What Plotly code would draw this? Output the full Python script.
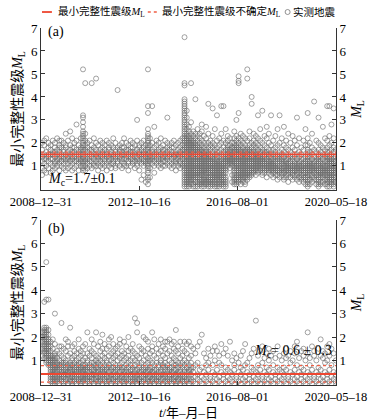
import plotly.graph_objects as go

# ---------------- data (magnitudes in tenths of M_L, grouped by month) ----------------
A_EARLY = [
    "2009-01:9 14 17 20 12 6", "2009-02:11 15 8 19 13 21", "2009-03:16 10 13 22 7 14",
    "2009-04:12 18 14 9 15 20", "2009-05:13 7 17 11 19 15", "2009-06:15 10 21 13 8 16",
    "2009-07:12 18 9 14 20 11 16", "2009-08:17 13 10 22 15 12", "2009-09:14 19 11 8 16 13 21 18",
    "2009-10:10 15 18 12 21 14", "2009-11:13 9 16 20 14 11 17", "2009-12:18 12 15 8 19 24 13",
    "2010-01:11 16 14 21 9 13", "2010-02:15 12 19 10 17 25 14", "2010-03:14 8 13 18 22 11 16",
    "2010-04:16 12 20 9 14 18", "2010-05:13 17 10 15 21 12 28", "2010-06:19 11 14 8 16 13",
    "2010-07:12 15 18 10 13 22 17",
    "2010-08:8 9 10 11 12 13 14 15 16 17 18 19 20 21 22 23 24 25 27 29 31 32 52",
    "2010-09:10 13 15 17 19 21 24 46 12 8", "2010-10:11 14 18 9 16 20 13", "2010-11:13 10 17 15 21 12",
    "2010-12:12 16 9 19 14 46 17", "2011-01:15 11 18 13 22 10", "2011-02:10 14 17 20 12 48 15",
    "2011-03:13 16 11 19 14 8", "2011-04:17 12 15 10 21 14", "2011-05:14 18 9 13 16 20 11",
    "2011-06:12 15 19 10 17 13", "2011-07:16 11 14 21 8 15", "2011-08:13 17 12 18 10 14 20",
    "2011-09:15 9 16 13 19 11", "2011-10:11 14 18 12 22 15", "2011-11:17 13 10 16 20 14 9",
    "2011-12:12 15 43 18 11 14", "2012-01:14 10 17 13 19 16", "2012-02:16 12 20 9 15 13 18",
    "2012-03:11 15 13 18 22 10", "2012-04:13 17 14 10 16 20", "2012-05:15 12 19 11 14 17 8",
    "2012-06:10 14 16 21 13 18", "2012-07:18 13 11 15 20 12 16", "2012-08:12 16 14 9 19 15",
    "2012-09:14 11 17 30 13 21 10", "2012-10:16 13 19 12 15 8 18", "2012-11:11 15 13 20 17 14 4",
    "2012-12:13 18 10 16 12 21 15 6", "2013-01:15 12 17 14 19 11 3",
    "2013-02:2 4 5 7 8 9 10 11 12 13 14 15 16 17 18 19 20 21 22 23 24 26 33 36 52",
    "2013-03:12 16 9 19 14 22 5 13", "2013-04:14 11 17 36 13 20 16", "2013-05:10 15 27 12 18 14 7",
    "2013-06:16 13 19 11 15 21", "2013-07:12 17 14 10 20 13 16", "2013-08:15 11 18 13 22 9",
    "2013-09:13 16 12 19 14 17 10", "2013-10:17 10 15 21 12 14", "2013-11:11 31 14 18 16 13 20",
    "2013-12:14 12 17 10 19 15", "2014-01:16 13 20 11 15 18 9", "2014-02:12 15 18 14 10 21",
    "2014-03:15 11 13 19 16 12 8", "2014-04:13 17 10 15 20 14", "2014-05:18 12 16 9 14 21 11",
    "2014-06:11 15 19 13 17 10 22",
]
A_SWARM = [
    "2014-07:1 2 3 4 5 6 7 8 9 10 11 12 13 14 15 16 17 18 19 20 21 22 23 24 25 26 27 28 29 30 31 32 33 34 35 36 37 38 39 45 46 66",
    "2014-08:1 2 3 4 5 6 7 8 9 10 11 12 13 14 15 16 17 18 19 20 21 22 23 24 26 28 31 34",
    "2014-09:1 2 3 4 5 6 7 8 9 10 11 12 13 14 15 16 17 18 19 20 21 22 23 25 27",
    "2014-10:2 3 4 5 6 7 8 9 10 11 12 13 14 15 16 17 18 19 20 21 22 24 46 29",
    "2014-11:1 2 4 5 6 7 8 9 10 11 12 13 14 15 16 17 18 19 20 21 23 25",
    "2014-12:1 3 4 5 6 7 8 9 10 11 12 13 14 15 16 17 18 19 20 22 24 39",
    "2015-01:1 2 3 5 6 7 8 9 10 11 12 13 14 15 16 17 18 19 21 23 26",
    "2015-02:2 3 4 5 6 7 8 9 10 11 12 13 14 15 16 17 18 20 22 24",
    "2015-03:1 2 3 4 6 7 8 9 10 11 12 13 14 15 16 17 19 21 25 28",
    "2015-04:1 2 3 4 5 6 7 8 9 10 11 12 13 14 15 16 18 20 23",
    "2015-05:2 3 4 5 6 7 8 9 10 11 12 13 14 15 16 17 19 22 27",
    "2015-06:1 2 3 4 5 7 8 9 10 11 12 13 14 15 16 18 20 24 37",
    "2015-07:1 2 3 4 5 6 7 8 9 10 11 12 13 14 15 17 19 21",
    "2015-08:2 3 4 5 6 7 8 9 10 11 12 13 14 16 18 20 23 35",
    "2015-09:1 2 3 4 5 6 7 8 9 10 11 12 13 15 17 19 26",
    "2015-10:1 2 4 5 6 7 8 9 10 11 12 13 14 15 16 18 21 32",
    "2015-11:1 2 3 4 5 6 7 8 9 10 11 12 14 16 19 22",
    "2015-12:2 3 4 5 6 7 8 9 10 11 12 13 15 17 20 24 36",
    "2016-01:1 2 3 4 5 6 7 8 9 10 11 12 13 14 16 18 21 36",
    "2016-02:1 2 3 4 5 7 8 9 10 11 12 13 14 15 17 20 26",
    "2016-03:10 11 12 13 14 15 16 17 18 19 21 23",
    "2016-04:9 11 12 13 14 15 16 17 19 22",
    "2016-05:3 6 10 11 12 13 14 15 16 18 20",
]
A_LATE = [
    "2016-06:2 3 4 5 6 7 8 9 10 11 12 13 14 15 16 17 18 19 20 22 25",
    "2016-07:2 3 4 5 6 8 9 10 11 12 13 14 15 16 17 18 19 21 23 30",
    "2016-08:3 4 5 6 7 8 9 10 11 12 13 14 15 16 17 18 20 22 33 46 47 49",
    "2016-09:2 4 5 6 7 8 9 10 11 12 13 14 15 16 17 19 21 24",
    "2016-10:3 4 5 6 7 8 9 10 11 12 13 14 15 16 18 20 23",
    "2016-11:2 3 5 6 7 8 9 10 11 12 13 14 15 16 17 19 22",
    "2016-12:4 5 6 7 8 9 10 11 12 13 14 15 16 17 18 21 48 52",
    "2017-01:5 6 7 8 9 10 11 12 13 14 15 16 17 19 22 25",
    "2017-02:6 7 8 9 10 11 12 13 14 15 16 18 20 37 40",
    "2017-03:7 8 9 10 11 12 13 14 15 16 17 19 21 24", "2017-04:6 8 9 10 11 12 13 14 15 16 18 20 23",
    "2017-05:7 8 9 10 11 12 13 14 15 17 19 22 32", "2017-06:8 9 10 11 12 13 14 15 16 18 21 26",
    "2017-07:6 7 9 10 11 12 13 14 16 17 20 34", "2017-08:7 8 9 10 11 12 13 14 15 16 19 23",
    "2017-09:5 8 9 10 11 12 13 15 16 18 22 27", "2017-10:7 8 9 10 11 12 14 15 17 20 24",
    "2017-11:6 8 9 10 11 12 13 14 16 19 32", "2017-12:5 7 8 9 10 11 12 13 15 17 21",
    "2018-01:6 7 8 9 10 11 12 14 16 18 23", "2018-02:4 6 8 9 10 11 13 14 15 19 26",
    "2018-03:5 7 8 9 10 12 13 14 16 20 32", "2018-04:6 7 8 9 11 12 13 15 17 22",
    "2018-05:4 5 7 8 9 10 11 12 14 16 19 27", "2018-06:5 6 8 9 10 11 12 13 15 18 21",
    "2018-07:3 6 7 8 9 10 11 13 14 17 24", "2018-08:5 7 8 9 10 11 12 14 16 20",
    "2018-09:4 6 7 8 9 10 12 13 15 18 23", "2018-10:5 6 8 9 10 11 12 14 17 21",
    "2018-11:4 6 7 8 9 10 11 13 15 19 31", "2018-12:3 5 7 8 9 10 11 12 14 16 22",
    "2019-01:4 5 6 8 9 10 12 13 15 18", "2019-02:3 5 6 7 8 9 10 11 13 17 21",
    "2019-03:2 4 5 7 8 9 10 11 12 14 19 26",
    "2019-04:1 2 3 4 5 6 7 8 9 10 11 12 13 14 15 16 17 19 22 33",
    "2019-05:2 4 6 7 8 9 10 11 12 14 16 20", "2019-06:3 5 6 8 9 10 11 13 15 18 24",
    "2019-07:4 5 7 8 9 10 11 12 14 17 38", "2019-08:2 4 6 7 8 9 10 12 13 16 21",
    "2019-09:1 2 3 4 5 6 7 8 9 10 11 12 13 14 15 17 20 31",
    "2019-10:2 3 5 6 7 8 9 10 11 12 14 16 19", "2019-11:3 5 6 7 8 9 10 11 13 15 18 27",
    "2019-12:2 4 6 7 8 9 10 12 14 17 22",
    "2020-01:1 2 3 4 5 6 7 8 9 10 11 12 13 14 15 16 18 21 36",
    "2020-02:1 3 4 5 6 7 8 9 10 11 12 13 14 16 19 23 36",
    "2020-03:2 3 4 5 6 7 8 9 10 11 12 13 15 17 20 28",
    "2020-04:1 2 3 4 5 6 7 8 9 10 11 12 13 14 16 18 22 35",
    "2020-05:3 5 7 8 9 10 12 14 17",
]
B_EARLY = [
    "2009-01:12 15 18 20 22", "2009-02:11 13 14 15 16 17 18 19 20 21 22 23 24 35",
    "2009-03:9 10 11 12 13 14 15 16 17 18 19 20 21 22 23 24 36 52",
    "2009-04:8 9 10 11 12 13 14 15 16 17 18 19 21 23 36",
    "2009-05:1 2 3 4 5 6 7 8 9 10 11 12 14 16 18", "2009-06:0 1 2 3 4 5 6 7 8 9 10 11 12 15 19",
    "2009-07:0 1 2 3 4 5 6 7 8 9 10 11 12 13 30 17", "2009-08:1 2 3 5 6 7 8 9 11 14",
    "2009-09:0 2 3 4 6 7 8 10 13 16", "2009-10:1 2 3 4 5 7 8 9 12 16 26",
    "2009-11:0 1 3 4 5 6 8 9 11 15", "2009-12:1 2 4 5 6 7 9 10 14 19",
    "2010-01:0 2 3 4 5 7 8 12 16 18", "2010-02:1 2 3 5 6 7 8 9 13 24",
    "2010-03:0 1 3 4 5 6 8 10 11 16", "2010-04:1 2 3 4 6 7 9 12 14 17",
    "2010-05:0 2 3 5 6 7 8 10 13", "2010-06:1 2 4 5 6 8 9 11 15 19",
    "2010-07:0 1 2 3 5 6 7 9 12 14", "2010-08:1 2 3 4 5 6 7 8 10 13 16",
    "2010-09:0 2 3 4 6 7 8 11 17", "2010-10:1 2 3 5 6 7 9 10 13 22",
    "2010-11:0 1 3 4 5 7 8 12 15", "2010-12:1 2 3 4 6 7 9 11 14 19",
    "2011-01:0 2 4 5 6 8 9 13 17", "2011-02:1 2 3 4 5 7 8 10 12 22",
    "2011-03:0 1 3 5 6 7 9 11 16", "2011-04:1 2 3 4 6 8 10 14 18",
    "2011-05:0 2 3 5 6 7 9 12 15 21", "2011-06:1 2 4 5 6 8 11 13 17",
    "2011-07:0 1 3 4 6 7 9 10 15", "2011-08:1 2 3 5 7 8 12 16 19",
    "2011-09:0 2 3 4 6 7 10 13 20", "2011-10:1 2 4 5 7 9 11 14 17",
    "2011-11:0 1 3 5 6 8 12 15", "2011-12:1 2 3 4 6 7 10 13 16",
    "2012-01:0 2 3 5 7 8 11 17 19", "2012-02:1 3 4 6 7 9 12 14",
    "2012-03:0 1 2 4 5 7 10 13 18", "2012-04:1 2 3 5 6 8 11 16",
    "2012-05:0 2 4 5 7 9 12 14 20", "2012-06:1 3 4 6 8 10 15",
    "2012-07:0 1 2 4 6 7 11 14 17", "2012-08:1 2 3 5 6 8 10 13 28",
    "2012-09:0 2 3 4 6 9 12 22 26", "2012-10:1 2 4 5 7 8 11 16",
    "2012-11:0 1 3 5 6 9 13 15", "2012-12:1 2 3 4 6 7 10 14 20",
    "2013-01:0 2 4 5 7 8 12 19", "2013-02:1 2 3 5 6 9 11 15 18",
    "2013-03:0 1 3 4 6 7 10 13", "2013-04:1 2 4 5 7 9 14 16 22",
    "2013-05:0 2 3 5 6 8 12 19", "2013-06:1 2 3 4 6 9 11 15",
    "2013-07:0 1 3 5 7 8 13 17", "2013-08:1 2 4 5 6 9 10 14 19",
    "2013-09:0 2 3 4 7 8 12 16", "2013-10:1 3 4 6 7 9 11 15 18",
    "2013-11:0 1 2 5 6 8 13 18", "2013-12:1 2 3 4 6 7 10 14 19",
    "2014-01:0 2 4 5 7 9 12 17", "2014-02:1 2 3 5 6 8 11 15 18",
    "2014-03:0 1 3 4 6 8 10 14 23", "2014-04:1 2 4 5 7 9 13 16",
    "2014-05:0 2 3 5 6 8 11 18", "2014-06:1 2 3 4 7 9 12 15",
    "2014-07:0 1 3 5 6 8 10 14 18", "2014-08:1 2 4 5 7 9 13 17",
    "2014-09:0 2 3 5 6 8 11 18", "2014-10:1 2 4 6 7 9 12 16",
]
B_LATE = [
    "2014-11:1 5 7 15", "2014-12:0 3 8 13", "2015-01:2 4 9 16", "2015-02:1 6 18",
    "2015-03:0 3 7 21", "2015-04:2 5 13", "2015-05:1 4 8 11", "2015-06:0 6 9 15",
    "2015-07:2 3 12", "2015-08:1 5 8 14", "2015-09:0 4 10 16", "2015-10:2 6 14",
    "2015-11:1 3 9 12", "2015-12:0 5 8 17", "2016-01:2 4 13", "2016-02:1 7 15",
    "2016-03:0 3 6 12", "2016-04:2 5 18", "2016-05:1 4 10", "2016-06:0 6 8 13",
    "2016-07:2 3 11", "2016-08:1 5 9", "2016-09:0 4 7 12", "2016-10:2 6 14",
    "2016-11:1 3 8 17", "2016-12:0 5 9", "2017-01:2 4 11", "2017-02:1 7 13",
    "2017-03:0 3 6 15", "2017-04:2 5 27", "2017-05:1 4 8 12", "2017-06:0 6 14",
    "2017-07:2 3 9 16", "2017-08:1 5 11", "2017-09:0 4 7 13", "2017-10:2 6 10 15",
    "2017-11:1 3 12", "2017-12:0 5 8 14", "2018-01:2 4 11", "2018-02:1 7 16",
    "2018-03:0 3 6 12", "2018-04:2 5 10", "2018-05:1 4 7 13", "2018-06:0 6 11 15",
    "2018-07:2 3 12", "2018-08:1 5 9 14", "2018-09:0 4 10", "2018-10:2 6 13 16",
    "2018-11:1 3 8 18", "2018-12:0 5 11", "2019-01:2 4 7 14", "2019-02:1 6 12 15",
    "2019-03:0 3 10", "2019-04:2 5 22 13", "2019-05:1 4 8 11", "2019-06:0 6 16",
    "2019-07:2 3 14 12", "2019-08:1 5 10", "2019-09:0 4 7 15", "2019-10:2 6 19 12",
    "2019-11:1 3 11 14", "2019-12:0 5 9 13", "2020-01:2 4 10 16", "2020-02:1 6 17 12",
    "2020-03:0 3 8 15", "2020-04:2 5 13", "2020-05:1 4 10",
]

MC_A, MC_A_LOW, MC_A_HIGH = 1.5, 1.4, 1.6
MC_B, MC_B_LOW, MC_B_HIGH = 0.42, 0.07, 0.78
X_RANGE = ["2008-12-31", "2020-05-18"]
X_TICKVALS = ["2008-12-31", "2012-10-16", "2016-08-01", "2020-05-18"]
X_TICKTEXT = ["2008–12–31", "2012–10–16", "2016–08–01", "2020–05–18"]
Y_TICKVALS = [1, 2, 3, 4, 5, 6, 7]
LEGEND_LABELS = ["最小完整性震级<i>M</i><sub>L</sub>",
                 "最小完整性震级不确定<i>M</i><sub>L</sub>",
                 "实测地震"]


def expand(rows):
    xs, ys = [], []
    for row in rows:
        month, vals = row.split(":")
        for v in vals.split():
            xs.append(month + "-15")
            ys.append(int(v) / 10.0)
    return xs, ys


ax, ay = expand(A_EARLY + A_SWARM + A_LATE)
bx, by = expand(B_EARLY + B_LATE)

FONT = "Liberation Serif, 'Noto Sans CJK SC', serif"
GREY = "rgba(105,105,105,0.62)"
RED = "rgb(238,70,48)"
RED_DOT = "rgb(240,95,70)"
TXT = "#000"

fig = go.Figure()
marker = dict(symbol="circle-open", size=5, color=GREY, line=dict(width=1, color=GREY))
fig.add_trace(go.Scatter(x=ax, y=ay, mode="markers", marker=marker, xaxis="x", yaxis="y",
                         showlegend=False, name="实测地震"))
fig.add_trace(go.Scatter(x=bx, y=by, mode="markers", marker=marker, xaxis="x2", yaxis="y2",
                         showlegend=False, name="实测地震"))

for yax, lo, mid, hi in [("y3", MC_A_LOW, MC_A, MC_A_HIGH), ("y4", MC_B_LOW, MC_B, MC_B_HIGH)]:
    xax = "x" if yax == "y3" else "x2"
    for val in (lo, hi):
        fig.add_trace(go.Scatter(x=X_RANGE, y=[val, val], mode="lines", xaxis=xax, yaxis=yax,
                                 line=dict(color=RED_DOT, width=1.3, dash="dot"), showlegend=False))
    fig.add_trace(go.Scatter(x=X_RANGE, y=[mid, mid], mode="lines", xaxis=xax, yaxis=yax,
                             line=dict(color=RED, width=1.8), showlegend=False))

axis_common = dict(showline=True, linecolor="#333", linewidth=1, ticks="inside", ticklen=4,
                   tickcolor="#333", showgrid=False, zeroline=False, automargin=False,
                   tickfont=dict(family=FONT, size=13, color=TXT))
xcommon = dict(axis_common, type="date", range=X_RANGE, tickvals=X_TICKVALS, ticktext=X_TICKTEXT,
               domain=[0, 1], tickfont=dict(family=FONT, size=12.5, color=TXT))
ycommon = dict(axis_common, range=[-0.05, 7], tickvals=Y_TICKVALS)

DOM_A = [0.5462, 1.0]
DOM_B = [0.0, 0.4622]
ytitle = dict(text="最小完整性震级<i>M</i><sub>L</sub>", font=dict(family=FONT, size=14, color=TXT),
              standoff=4)
rtitle = dict(text="<i>M</i><sub>L</sub>", font=dict(family=FONT, size=14, color=TXT), standoff=5)

fig.update_layout(
    width=372, height=420,
    margin=dict(l=41, r=36, t=28, b=35),
    paper_bgcolor="white", plot_bgcolor="white",
    font=dict(family=FONT, size=13, color=TXT),
    xaxis=dict(xcommon, anchor="y"),
    xaxis2=dict(xcommon, anchor="y2",
                title=dict(text="<i>t</i>/年–月–日", font=dict(family=FONT, size=13, color=TXT),
                           standoff=4)),
    yaxis=dict(ycommon, domain=DOM_A, anchor="x", title=ytitle),
    yaxis2=dict(ycommon, domain=DOM_B, anchor="x2", title=ytitle),
    yaxis3=dict(ycommon, overlaying="y", side="right", anchor="x", title=rtitle),
    yaxis4=dict(ycommon, overlaying="y2", side="right", anchor="x2", title=rtitle),
    showlegend=False,
)

# panel labels and Mc annotations
ann_font = dict(family=FONT, size=14, color=TXT)
fig.add_annotation(text="(a)", xref="paper", yref="paper", x=0.018, y=0.989,
                   xanchor="left", yanchor="middle", showarrow=False, font=ann_font)
fig.add_annotation(text="(b)", xref="paper", yref="paper", x=0.018, y=0.437,
                   xanchor="left", yanchor="middle", showarrow=False, font=ann_font)
fig.add_annotation(text="<i>M</i><sub>c</sub>=1.7±0.1", xref="paper", yref="paper", x=0.018, y=0.577,
                   xanchor="left", yanchor="middle", showarrow=False, font=ann_font)
fig.add_annotation(text="<i>M</i><sub>c</sub>= 0.6 ± 0.3", xref="paper", yref="paper", x=0.716, y=0.093,
                   xanchor="left", yanchor="middle", showarrow=False, font=ann_font)

# legend (drawn manually to match the compact original)
LY = 1.0448
leg_font = dict(family=FONT, size=10.5, color=TXT)
fig.add_shape(type="line", xref="paper", yref="paper", x0=0.0034, x1=0.037, y0=LY, y1=LY,
              line=dict(color=RED, width=1.8))
fig.add_annotation(text=LEGEND_LABELS[0], xref="paper", yref="paper", x=0.05, y=LY,
                   xanchor="left", yanchor="middle", showarrow=False, font=leg_font)
fig.add_shape(type="line", xref="paper", yref="paper", x0=0.362, x1=0.396, y0=LY, y1=LY,
              line=dict(color=RED_DOT, width=1.5, dash="dot"))
fig.add_annotation(text=LEGEND_LABELS[1], xref="paper", yref="paper", x=0.402, y=LY,
                   xanchor="left", yanchor="middle", showarrow=False, font=leg_font)
fig.add_shape(type="circle", xref="paper", yref="paper", xsizemode="pixel", ysizemode="pixel",
              xanchor=0.836, yanchor=LY, x0=-2.5, x1=2.5, y0=-2.5, y1=2.5,
              line=dict(color="rgba(120,120,120,0.8)", width=1))
fig.add_annotation(text=LEGEND_LABELS[2], xref="paper", yref="paper", x=0.848, y=LY,
                   xanchor="left", yanchor="middle", showarrow=False, font=leg_font)

# remove the browser's default page margin so the 372x420 figure sits at the window origin
fig.write_html("out.html", config={"displayModeBar": False},
               post_script="document.body.style.margin='0';")
